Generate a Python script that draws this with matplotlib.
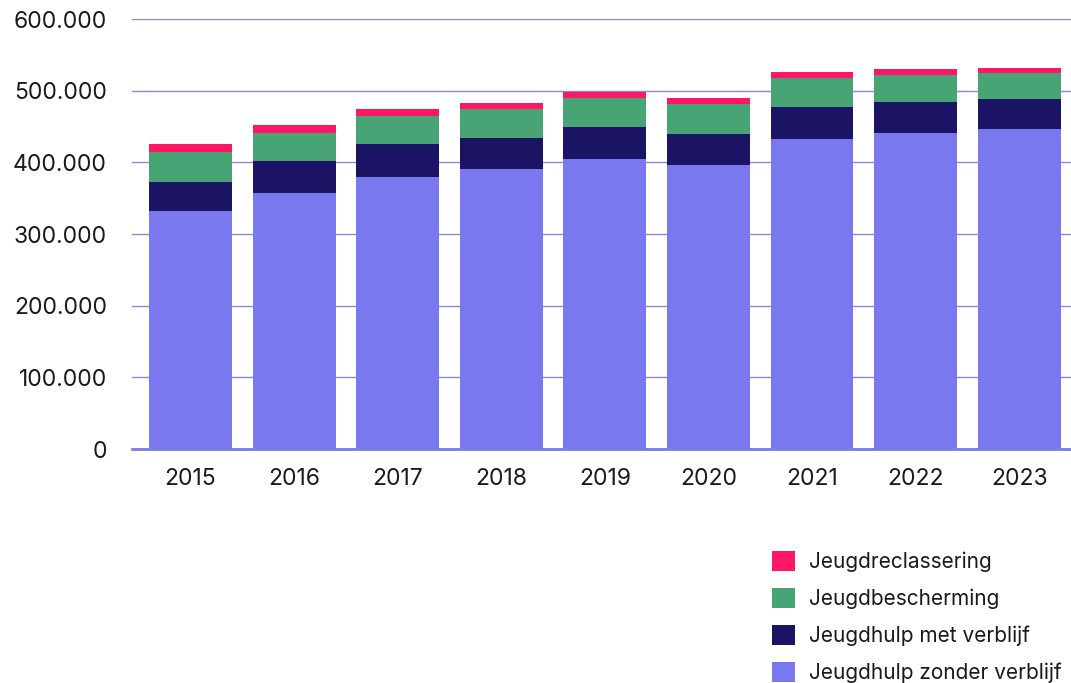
import matplotlib
matplotlib.use("Agg")
import matplotlib.pyplot as plt
from matplotlib.ticker import FuncFormatter
import numpy as np

# data (thousands)
jaren = ["2015", "2016", "2017", "2018", "2019", "2020", "2021", "2022", "2023"]
zonder_verblijf = [332, 357, 379.5, 390.5, 404.5, 396, 432.5, 441, 446.5]
met_verblijf = [40.5, 45, 46, 43.5, 44.5, 43.5, 44.5, 43, 41.5]
bescherming = [41.5, 39, 39, 40.5, 41, 41.5, 40.5, 38, 36.5]
reclassering = [11.5, 11, 10, 8.5, 8, 9, 8.5, 8, 7]

labels = ["Jeugdhulp zonder verblijf", "Jeugdhulp met verblijf",
          "Jeugdbescherming", "Jeugdreclassering"]
kleuren = ["#7a78ee", "#1b1464", "#49a475", "#ff1665"]

plt.rcParams['font.family'] = ['Inter', 'DejaVu Sans']
tekst = "#1a1a1a"

fig = plt.figure(figsize=(10.71, 6.83), dpi=100)
ax = fig.add_axes([132 / 1071, 1 - 449 / 683, 1 - 132 / 1071, 430 / 683])

x = np.arange(len(jaren))
onder = np.zeros(len(jaren))
handles = []
for reeks, lab, kl in zip([zonder_verblijf, met_verblijf, bescherming, reclassering], labels, kleuren):
    vals = np.array(reeks) * 1000
    h = ax.bar(x, vals, 0.8, bottom=onder, color=kl, label=lab, zorder=2)
    handles.append(h)
    onder += vals

ax.set_xlim(-0.565, 8.5)
ax.set_ylim(0, 600000)
ax.set_yticks(np.arange(0, 600001, 100000))
ax.yaxis.set_major_formatter(FuncFormatter(lambda v, p: f"{int(v):,}".replace(",", ".")))
ax.set_xticks(x)
ax.set_xticklabels(jaren)

ax.grid(axis="y", color="#8a86e6", linewidth=1, zorder=0)
ax.set_axisbelow(True)
for s in ["top", "right", "left"]:
    ax.spines[s].set_visible(False)
ax.spines["bottom"].set_color("#7a78ee")
ax.spines["bottom"].set_linewidth(2)
ax.spines["bottom"].set_zorder(3)

ax.tick_params(axis="y", length=0, pad=18, labelsize=16.5, labelcolor=tekst)
ax.tick_params(axis="x", length=0, pad=14, labelsize=16.5, labelcolor=tekst)

leg = fig.legend(handles[::-1], labels[::-1], loc="upper left",
                 bbox_to_anchor=(772 / 1071, 1 - 551 / 683), frameon=False,
                 fontsize=15, handlelength=1.1, handleheight=1.1,
                 handletextpad=0.66, labelspacing=0.76, borderpad=0,
                 borderaxespad=0)
for t in leg.get_texts():
    t.set_color(tekst)

fig.savefig("out.png", dpi=100)
